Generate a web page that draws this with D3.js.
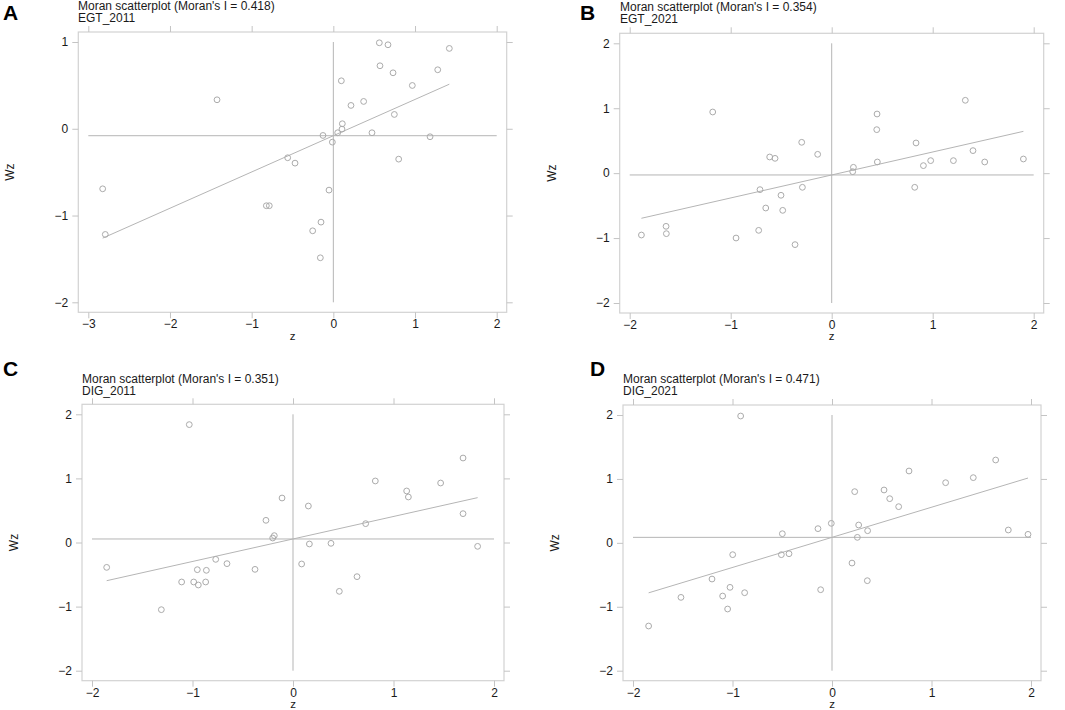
<!DOCTYPE html>
<html>
<head>
<meta charset="utf-8">
<script src="https://cdn.jsdelivr.net/npm/d3@7"></script>
<style>
  html, body { margin: 0; padding: 0; background: #fff; }
  svg { display: block; font-family: Arial, "Liberation Sans", sans-serif; }
</style>
</head>
<body>
<svg id="chart" width="1065" height="710"></svg>
<script>
// ---------- data ----------
const panelLetters = ["A", "B", "C", "D"];
const variableNames = ["EGT_2011", "EGT_2021", "DIG_2011", "DIG_2021"];
const moranI = [0.418, 0.354, 0.351, 0.471];
const meanWz = [-0.08, -0.028, 0.055, 0.086];
const xTicksA = [-3, -2, -1, 0, 1, 2];
const yTicksA = [-2, -1, 0, 1];
const xTicksBCD = [-2, -1, 0, 1, 2];
const yTicksBCD = [-2, -1, 0, 1, 2];

const zA = [0.563,0.669,1.420,0.571,0.731,1.278,0.098,0.967,-1.424,0.216,0.371,0.747,0.110,0.106,0.053,-0.127,-0.012,0.473,1.184,-0.559,-0.469,0.800,-2.824,-0.053,-0.820,-0.784,-0.151,-0.253,-2.792,-0.159];
const wzA = [0.991,0.968,0.926,0.726,0.645,0.680,0.553,0.499,0.334,0.269,0.315,0.165,0.058,-0.004,-0.046,-0.077,-0.154,-0.046,-0.092,-0.334,-0.396,-0.350,-0.692,-0.707,-0.887,-0.887,-1.076,-1.176,-1.218,-1.487];

const zB = [-1.178,1.323,0.449,0.446,-0.297,0.835,-0.614,-0.561,-0.139,1.399,0.215,0.208,0.452,0.908,0.980,1.205,1.515,1.898,0.822,-0.290,-0.710,-0.502,-0.653,-0.485,-0.723,-1.640,-1.637,-1.884,-0.947,-0.363];
const wzB = [0.942,1.122,0.911,0.670,0.475,0.465,0.249,0.228,0.290,0.347,0.090,0.023,0.172,0.116,0.193,0.193,0.172,0.218,-0.218,-0.218,-0.254,-0.341,-0.537,-0.573,-0.881,-0.819,-0.932,-0.953,-0.999,-1.101];

const zC = [-1.032,1.692,0.819,1.469,1.131,1.148,-0.109,0.153,1.692,-0.269,0.723,-0.186,-0.202,0.163,0.378,1.837,-1.854,-0.769,-0.657,-0.378,-0.952,-0.862,0.086,-1.108,-0.988,-0.869,-0.942,0.637,0.461,-1.310];
const wzC = [1.839,1.318,0.960,0.928,0.804,0.710,0.694,0.569,0.450,0.346,0.294,0.107,0.070,-0.023,-0.013,-0.060,-0.388,-0.263,-0.330,-0.419,-0.424,-0.434,-0.335,-0.616,-0.616,-0.616,-0.663,-0.533,-0.762,-1.048];

const zD = [-0.918,1.645,0.774,1.420,1.142,0.228,0.523,0.580,0.670,-0.007,-0.141,0.268,0.358,1.772,1.970,-0.499,0.255,-0.998,-0.509,-0.432,0.201,-1.206,0.355,-1.025,-1.099,-0.878,-1.518,-0.114,-1.049,-1.843];
const wzD = [1.984,1.296,1.124,1.020,0.941,0.801,0.827,0.691,0.566,0.305,0.222,0.279,0.190,0.201,0.133,0.143,0.086,-0.185,-0.185,-0.170,-0.316,-0.566,-0.592,-0.696,-0.832,-0.780,-0.853,-0.733,-1.035,-1.301];

// ---------- layout ----------
const layouts = [
  { x0: 88.3, x1: 496.7, y0: 302.3, y1: 42,  titleX: 78,  titleY: 10.3, letterX: 3,   letterY: 20,  xt: xTicksA,   yt: yTicksA,   z: zA, wz: wzA },
  { x0: 629.7, x1: 1033.7, y0: 303, y1: 43.3, titleX: 620, titleY: 11.3, letterX: 580, letterY: 19.5, xt: xTicksBCD, yt: yTicksBCD, z: zB, wz: wzB },
  { x0: 92,  x1: 494,  y0: 670.7, y1: 414.3, titleX: 82,  titleY: 383.3, letterX: 3,   letterY: 376, xt: xTicksBCD, yt: yTicksBCD, z: zC, wz: wzC },
  { x0: 633, x1: 1031, y0: 670.7, y1: 415,   titleX: 623, titleY: 383.3, letterX: 590, letterY: 376, xt: xTicksBCD, yt: yTicksBCD, z: zD, wz: wzD }
];

const svg = d3.select("#chart");
const pad = 10;
const tickLen = 6;
const frameColor = "#d2d2d2";
const tickColor = "#c4c4c4";
const markColor = "#ababab";
const lineColor = "#b5b5b5";

layouts.forEach((L, i) => {
  const xs = d3.scaleLinear().domain([L.xt[0], L.xt[L.xt.length - 1]]).range([L.x0, L.x1]);
  const ys = d3.scaleLinear().domain([L.yt[0], L.yt[L.yt.length - 1]]).range([L.y0, L.y1]);
  const g = svg.append("g");

  const fL = L.x0 - pad, fR = L.x1 + pad, fT = L.y1 - pad, fB = L.y0 + pad;

  // frame
  g.append("rect").attr("x", fL).attr("y", fT).attr("width", fR - fL).attr("height", fB - fT)
    .attr("fill", "none").attr("stroke", frameColor).attr("stroke-width", 1.2);

  // axes (ticks on four sides, labels on bottom and left)
  const axB = d3.axisBottom(xs).tickValues(L.xt).tickSize(tickLen).tickPadding(1.5).tickFormat(d3.format("d"));
  const axT = d3.axisTop(xs).tickValues(L.xt).tickSize(tickLen).tickFormat("");
  const axL = d3.axisLeft(ys).tickValues(L.yt).tickSize(tickLen).tickPadding(4).tickFormat(d3.format("d"));
  const axR = d3.axisRight(ys).tickValues(L.yt).tickSize(tickLen).tickFormat("");

  const style = sel => {
    sel.select(".domain").remove();
    sel.selectAll(".tick line").attr("stroke", tickColor);
    sel.selectAll(".tick text").attr("fill", "#1a1a1a").style("font-size", "12px")
      .style("font-family", "Arial, 'Liberation Sans', sans-serif");
  };
  g.append("g").attr("transform", `translate(0,${fB})`).call(axB).call(style);
  g.append("g").attr("transform", `translate(0,${fT})`).call(axT).call(style);
  g.append("g").attr("transform", `translate(${fL},0)`).call(axL).call(style);
  g.append("g").attr("transform", `translate(${fR},0)`).call(axR).call(style);

  // reference lines
  g.append("line").attr("x1", xs(L.xt[0])).attr("x2", xs(L.xt[L.xt.length - 1]))
    .attr("y1", ys(meanWz[i])).attr("y2", ys(meanWz[i]))
    .attr("stroke", lineColor).attr("stroke-width", 1);
  g.append("line").attr("x1", xs(0)).attr("x2", xs(0))
    .attr("y1", ys(L.yt[L.yt.length - 1])).attr("y2", ys(L.yt[0]))
    .attr("stroke", lineColor).attr("stroke-width", 1);

  // fitted line (slope = Moran's I, through mean)
  const [zmin, zmax] = d3.extent(L.z);
  g.append("line")
    .attr("x1", xs(zmin)).attr("y1", ys(meanWz[i] + moranI[i] * zmin))
    .attr("x2", xs(zmax)).attr("y2", ys(meanWz[i] + moranI[i] * zmax))
    .attr("stroke", lineColor).attr("stroke-width", 1);

  // points
  g.selectAll("circle.pt").data(L.z.map((z, k) => [z, L.wz[k]])).enter()
    .append("circle").attr("class", "pt")
    .attr("cx", d => xs(d[0])).attr("cy", d => ys(d[1])).attr("r", 2.9)
    .attr("fill", "none").attr("stroke", markColor).attr("stroke-width", 1);

  // two-line title as a single text block
  const t = g.append("text").attr("x", L.titleX).attr("y", L.titleY)
    .style("font-size", "12px").attr("fill", "#1a1a1a");
  t.append("tspan").attr("x", L.titleX).attr("y", L.titleY)
    .text(`Moran scatterplot (Moran's I = ${moranI[i].toFixed(3)})`);
  t.append("tspan").attr("x", L.titleX).attr("y", L.titleY + 11.4)
    .text(variableNames[i]);

  // panel letter
  g.append("text").attr("x", L.letterX).attr("y", L.letterY)
    .style("font-size", "21px").style("font-weight", "bold").attr("fill", "#000")
    .text(panelLetters[i]);

  // axis titles
  g.append("text").attr("x", (fL + fR) / 2).attr("y", fB + 27.3)
    .attr("text-anchor", "middle").style("font-size", "11.5px").attr("fill", "#1a1a1a").text("z");
  g.append("text").attr("transform", `translate(${fL - 64},${(fT + fB) / 2}) rotate(-90)`)
    .attr("text-anchor", "middle").style("font-size", "12px").attr("fill", "#1a1a1a").text("Wz");
});
</script>
</body>
</html>
